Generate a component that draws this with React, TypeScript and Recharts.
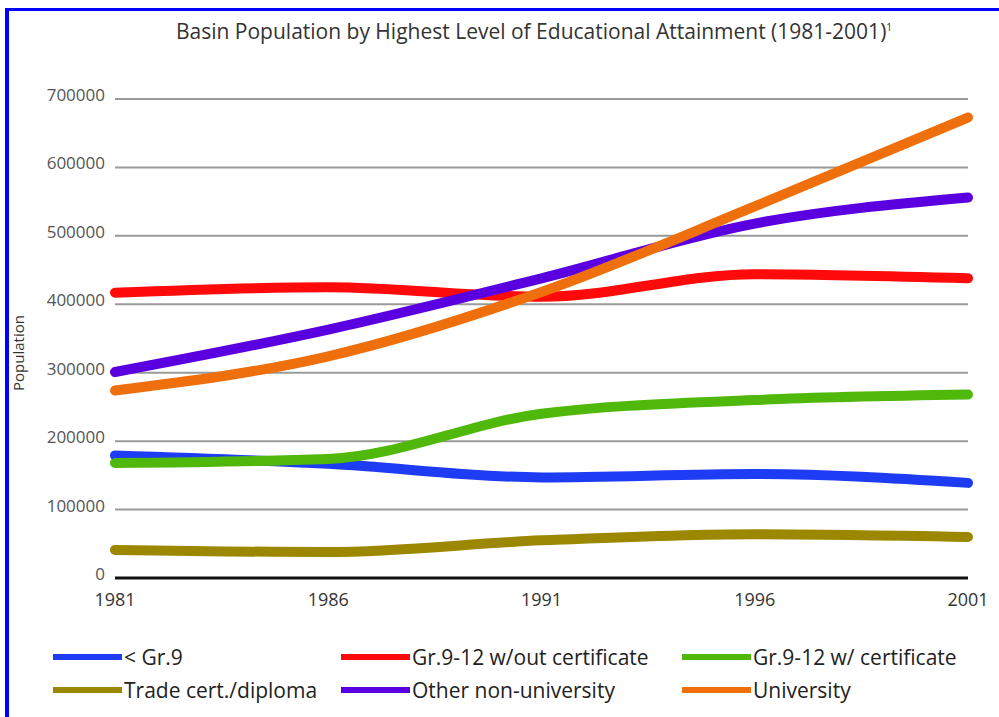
import React from "react";
import { LineChart, Line, XAxis, YAxis, CartesianGrid } from "recharts";

const years = ["1981", "1986", "1991", "1996", "2001"];
const yTicks = [0, 100000, 200000, 300000, 400000, 500000, 600000, 700000];

const lessGr9 = [179000, 167000, 147000, 152000, 139000];
const noCert = [417000, 425000, 411000, 444000, 438000];
const withCert = [168000, 174000, 240000, 260000, 268000];
const trade = [41000, 38000, 55000, 64000, 60000];
const otherNonUni = [301000, 363000, 438000, 518000, 556000];
const university = [274000, 324000, 418000, 543000, 673000];

const seriesList = [
  { key: "lessGr9", name: "< Gr.9", color: "#1f3cf5", values: lessGr9 },
  { key: "noCert", name: "Gr.9-12 w/out certificate", color: "#ff0a0a", values: noCert },
  { key: "withCert", name: "Gr.9-12 w/ certificate", color: "#4fb80a", values: withCert },
  { key: "trade", name: "Trade cert./diploma", color: "#9c8800", values: trade },
  { key: "otherNonUni", name: "Other non-university", color: "#5a00e0", values: otherNonUni },
  { key: "university", name: "University", color: "#ef6f0c", values: university },
];

const data = years.map((year, i) => {
  const row: Record<string, string | number> = { year };
  seriesList.forEach((s) => {
    row[s.key] = s.values[i];
  });
  return row;
});

const FONT = "'Open Sans', sans-serif";

const YTick = (props: any) => {
  const { x, y, payload } = props;
  return (
    <text x={x} y={y - 4} dy="0.35em" textAnchor="end" fontSize={17} fill="#555" fontFamily={FONT}>
      {payload.value}
    </text>
  );
};

const legendCols = [53, 341, 682];
const legendRows = [657, 690];

export default function App() {
  return (
    <div style={{ position: "absolute", left: 0, top: 0, width: 999, height: 717, background: "#fff", fontFamily: FONT }}>
      <div style={{ position: "absolute", left: 5, top: 8, width: 994, height: 709, borderTop: "3px solid #0000ff", borderLeft: "4px solid #0000ff", boxSizing: "border-box" }} />
      <div style={{ position: "absolute", left: 0, top: 17, width: 1068, textAlign: "center", fontSize: 21, color: "#333" }}>
        Basin Population by Highest Level of Educational Attainment (1981-2001)
        <sup style={{ fontSize: 10 }}>1</sup>
      </div>
      <div style={{ position: "absolute", left: 0, top: 0 }}>
        <LineChart width={999} height={717} data={data} margin={{ top: 99, right: 31, bottom: 109, left: 0 }}>
          <CartesianGrid horizontal={true} vertical={false} stroke="#9a9a9a" strokeWidth={2} />
          <XAxis
            dataKey="year"
            axisLine={{ stroke: "#111", strokeWidth: 3 }}
            tickLine={false}
            tickMargin={9}
            tick={{ fontSize: 18, fill: "#333", fontFamily: FONT }}
            interval={0}
          />
          <YAxis
            type="number"
            domain={[0, 700000]}
            ticks={yTicks}
            width={115}
            axisLine={false}
            tickLine={false}
            tickMargin={4}
            tick={<YTick />}
            label={{
              content: () => (
                <text x={19} y={353} transform="rotate(-90, 19, 353)" textAnchor="middle" dy="0.35em" fontSize={15} fill="#333" fontFamily={FONT}>
                  Population
                </text>
              ),
            }}
          />
          {seriesList.map((s) => (
            <Line
              key={s.key}
              type="monotone"
              dataKey={s.key}
              name={s.name}
              stroke={s.color}
              strokeWidth={10}
              strokeLinecap="round"
              dot={false}
              activeDot={false}
              isAnimationActive={false}
            />
          ))}
        </LineChart>
      </div>
      {seriesList.map((s, i) => (
        <div
          key={s.key}
          style={{
            position: "absolute",
            left: legendCols[i % 3],
            top: legendRows[Math.floor(i / 3)] - 15,
            height: 30,
            display: "flex",
            alignItems: "center",
            fontSize: 21,
            color: "#222",
            whiteSpace: "nowrap",
          }}
        >
          <span style={{ display: "inline-block", width: 69, height: 6, background: s.color, marginRight: 2 }} />
          {s.name}
        </div>
      ))}
    </div>
  );
}
